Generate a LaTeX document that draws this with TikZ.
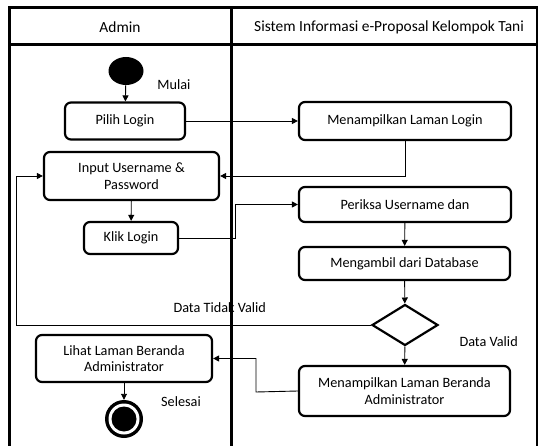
\documentclass[tikz,border=0pt]{standalone}
\usepackage{fontspec}
\setmainfont{Carlito}
\usetikzlibrary{arrows.meta,shapes.geometric}
\begin{document}
\begin{tikzpicture}[x=1bp,y=-1bp,
        font=\fontsize{14.3}{16.5}\selectfont,
        lane/.style={line width=3bp},
        activity/.style={draw,line width=2.2bp,rounded corners=6bp,align=center,inner sep=2bp},
        flow/.style={line width=0.9bp,-{Triangle[length=6bp,width=6bp]}},
        header/.style={font=\fontsize{15.5}{17}\selectfont}]
    \useasboundingbox (0,0) rectangle (538,446);
    \draw[lane]
        (9,446) -- (9,8) -- (537,8) -- (537,446)
        (9,45) -- (537,45)
        (231,8) -- (231,446);
    \node[header] (admin) at (120,27) {Admin};
    \node[header] (sistem) at (389,27) {Sistem Informasi e-Proposal Kelompok Tani};
    \node[ellipse,fill=black,minimum width=35bp,minimum height=28bp,inner sep=0pt] (mulai) at (126,71) {};
    \node (lblmulai) at (174,85) {Mulai};
    \node[activity,minimum width=120bp,minimum height=37bp] (pilih) at (125,121) {Pilih Login};
    \node[activity,minimum width=175bp,minimum height=48bp] (input) at (131.5,176) {Input Username \&\\Password};
    \node[activity,minimum width=94bp,minimum height=32bp] (klik) at (131,238) {Klik Login};
    \node[activity,minimum width=176bp,minimum height=47bp] (lihat) at (124,358.5) {Lihat Laman Beranda\\Administrator};
    \node[circle,fill=black,minimum size=38bp,inner sep=0pt] (selesai) at (124,419) {};
    \fill[white] (selesai) circle (15.5bp);
    \fill[black] (selesai) circle (12.5bp);
    \node (lblselesai) at (181,402) {Selesai};
    \node[activity,minimum width=212bp,minimum height=38bp] (laman) at (405,121) {Menampilkan Laman Login};
    \node[activity,minimum width=212bp,minimum height=35bp] (periksa) at (405,204.5) {Periksa Username dan};
    \node[activity,minimum width=211bp,minimum height=33bp] (ambil) at (404.5,263.5) {Mengambil dari Database};
    \node[diamond,draw,line width=2.2bp,minimum width=66bp,minimum height=41bp,inner sep=0pt] (cek) at (405,325) {};
    \node[anchor=west] (lblvalid) at (456,342) {Data Valid};
    \node[anchor=west] (lbltidak) at (170,308) {Data Tidak Valid};
    \node[activity,minimum width=211bp,minimum height=50bp] (beranda) at (404.5,391) {Menampilkan Laman Beranda\\Administrator};
    \coordinate (tidak) at (16,325);
    \coordinate (naik) at (235,238);
    \coordinate (belok) at (256,392);
    \draw[flow] (mulai) -- (pilih);
    \draw[flow] (pilih) -- (laman);
    \draw[flow] (laman.south) |- (input.east);
    \draw[flow] (input) -- (klik);
    \draw[flow] (klik.east) -- (naik) |- (periksa.west);
    \draw[flow] (periksa) -- (ambil);
    \draw[flow] (ambil) -- (cek);
    \draw[flow] (cek.west) -- (tidak) |- (input.west);
    \draw[flow] (cek) -- (beranda);
    \draw[flow] (beranda.west) -- (belok) |- (lihat.east);
    \draw[flow] (lihat) -- (selesai);
\end{tikzpicture}
\end{document}
